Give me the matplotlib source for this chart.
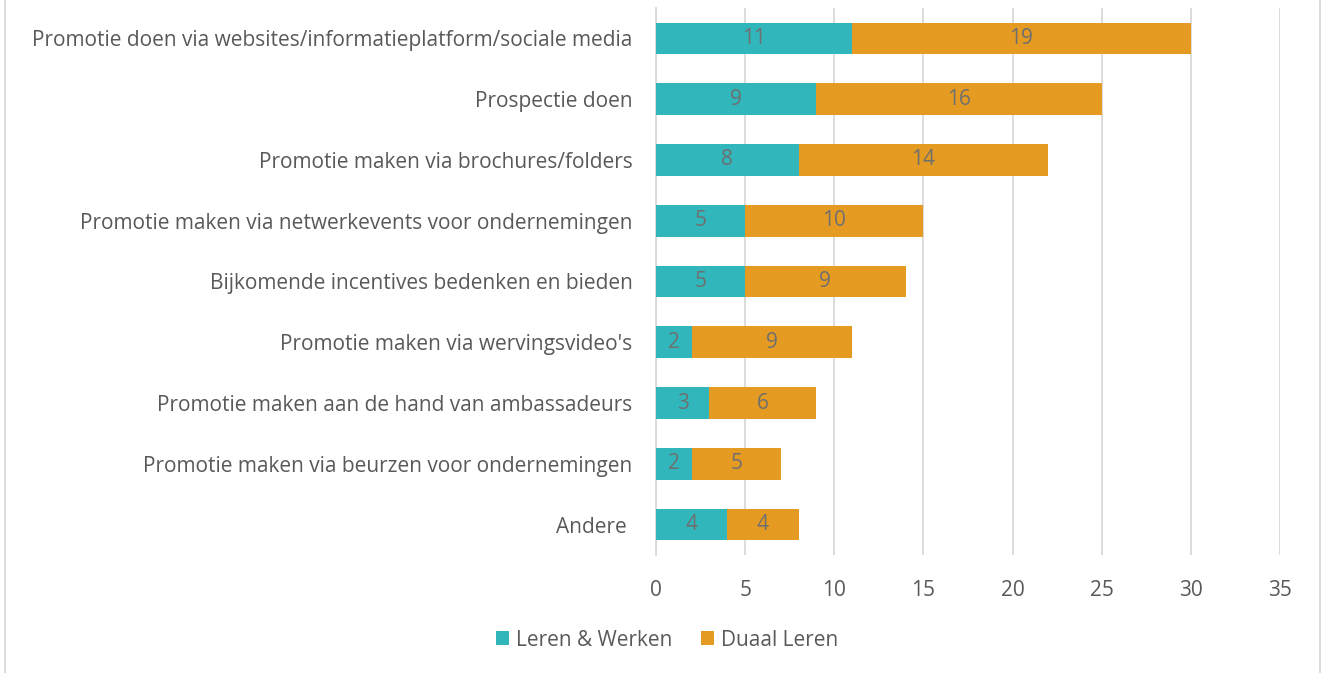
import matplotlib.pyplot as plt
from matplotlib.lines import Line2D

categories = [
    "Promotie doen via websites/informatieplatform/sociale media",
    "Prospectie doen",
    "Promotie maken via brochures/folders",
    "Promotie maken via netwerkevents voor ondernemingen",
    "Bijkomende incentives bedenken en bieden",
    "Promotie maken via wervingsvideo's",
    "Promotie maken aan de hand van ambassadeurs",
    "Promotie maken via beurzen voor ondernemingen",
    "Andere ",
]
leren_werken = [11, 9, 8, 5, 5, 2, 3, 2, 4]
duaal_leren = [19, 16, 14, 10, 9, 9, 6, 5, 4]
xticks = [0, 5, 10, 15, 20, 25, 30, 35]

teal = '#31B6BC'
orange = '#E59B21'
text_col = '#595959'

plt.rcParams['font.family'] = ['Open Sans', 'DejaVu Sans']

fig = plt.figure(figsize=(13.22, 6.73), dpi=100)
ax = fig.add_axes([656 / 1322, 1 - 555 / 673, 624 / 1322, 547 / 673])

y = list(range(len(categories)))
b1 = ax.barh(y, leren_werken, height=0.52, color=teal, label='Leren & Werken', zorder=3)
b2 = ax.barh(y, duaal_leren, left=leren_werken, height=0.52, color=orange,
             label='Duaal Leren', zorder=3)

for vals, lefts in [(leren_werken, [0] * len(y)), (duaal_leren, leren_werken)]:
    for i, v in enumerate(vals):
        ax.text(lefts[i] + v / 2, y[i], str(v), ha='center', va='center',
                fontsize=15, color='#6f6f6f', zorder=4)

ax.set_xlim(0, 35)
ax.set_ylim(len(categories) - 0.5, -0.5)
ax.set_xticks(xticks)
ax.set_yticks(y)
ax.set_yticklabels(categories)
ax.grid(axis='x', color='#d9d9d9', linewidth=1.3, zorder=0)
for s in ['top', 'right', 'bottom']:
    ax.spines[s].set_visible(False)
ax.spines['left'].set_color('#d9d9d9')
ax.spines['left'].set_linewidth(1.3)
ax.tick_params(axis='both', length=0, labelsize=15, colors=text_col)
ax.tick_params(axis='y', pad=17)
ax.tick_params(axis='x', pad=18)

leg = ax.legend(loc='center', ncol=2, frameon=False, fontsize=15,
                labelcolor=text_col, handlelength=0.63, handleheight=0.63,
                handletextpad=0.33, columnspacing=1.4,
                bbox_to_anchor=(667 / 1322, 1 - 640 / 673),
                bbox_transform=fig.transFigure)

fig.add_artist(Line2D([5 / 1322, 5 / 1322], [0, 1], color='#d9d9d9', lw=1.3))
fig.add_artist(Line2D([1320 / 1322, 1320 / 1322], [0, 1], color='#d9d9d9', lw=1.3))

fig.savefig('out.png', dpi=100)
